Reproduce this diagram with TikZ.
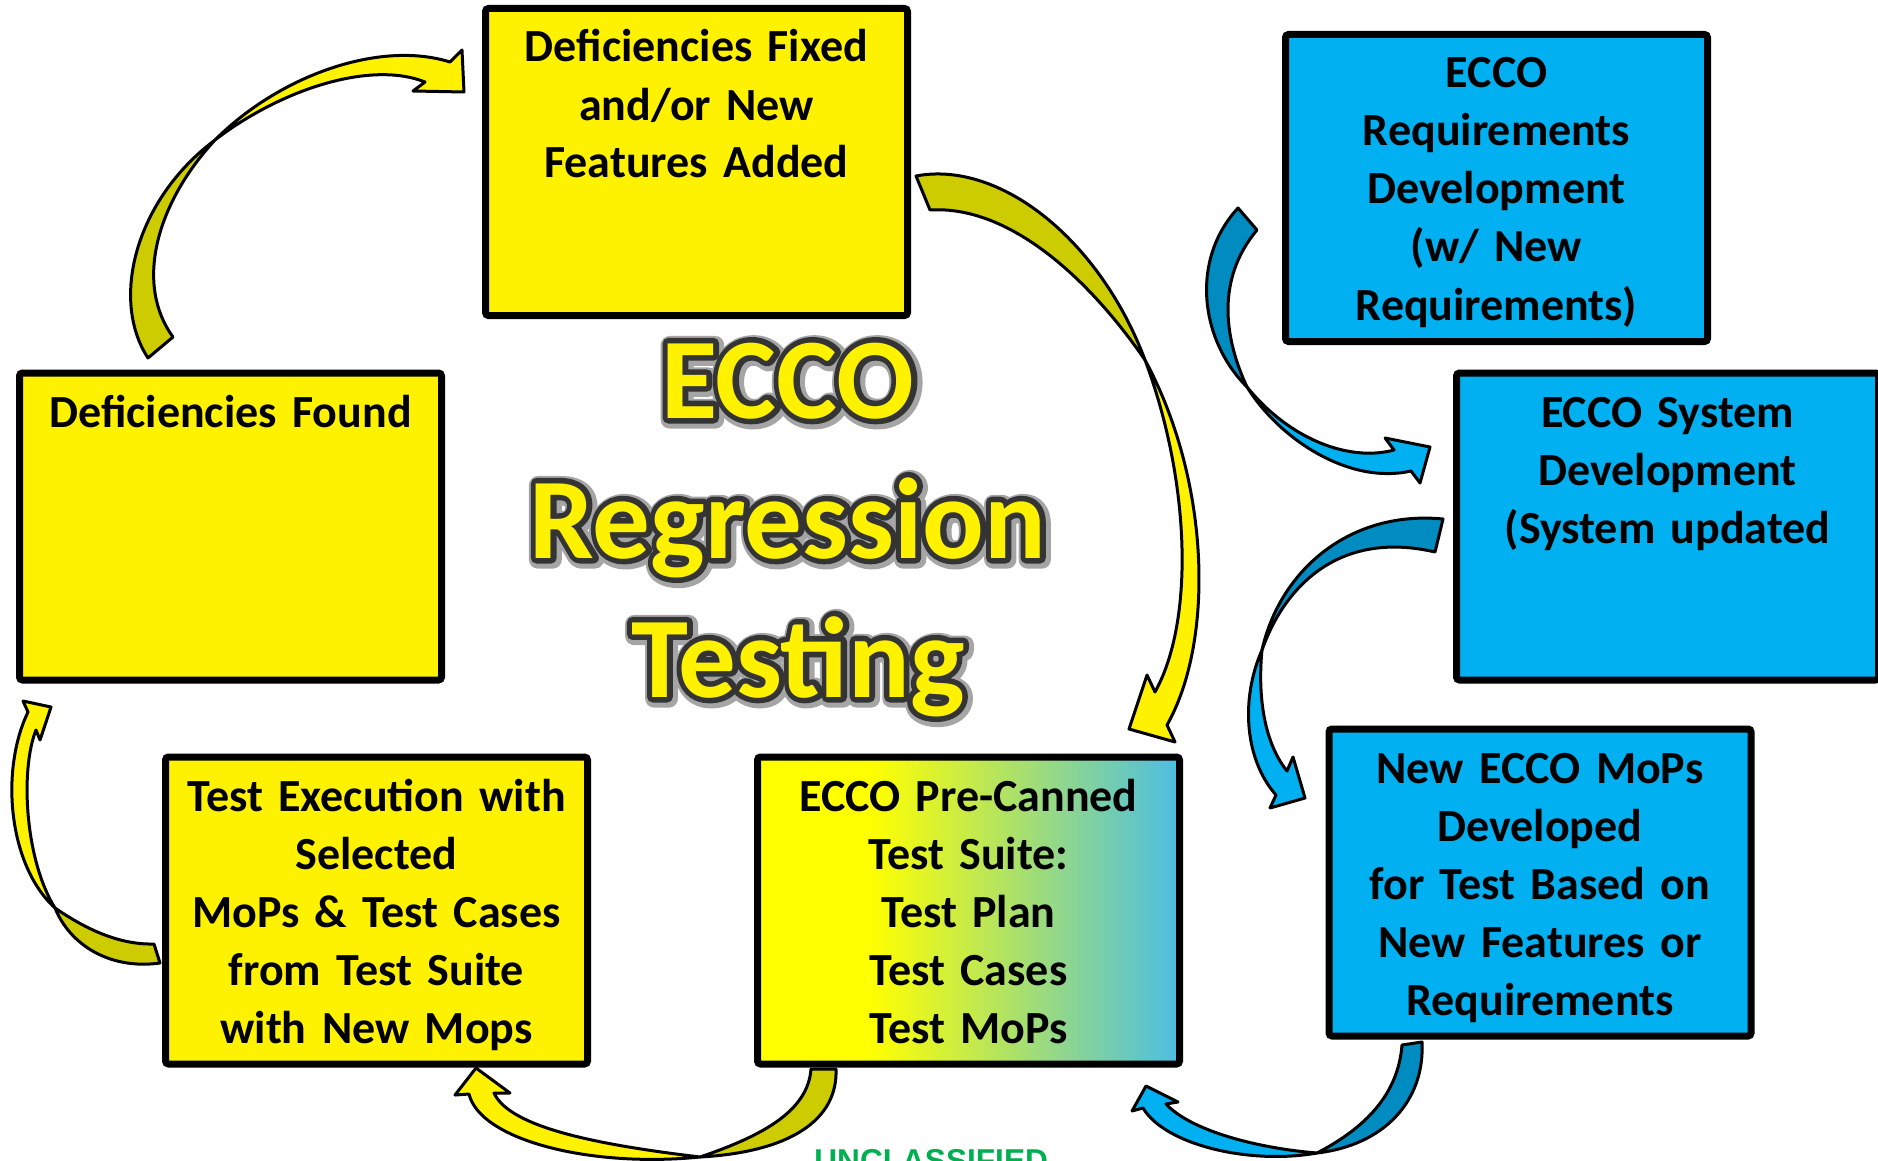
\documentclass[tikz,border=0pt]{standalone}
\usepackage{fontspec}
\setmainfont{Carlito}
\newfontfamily\classfont{Liberation Sans}
\definecolor{boxblue}{RGB}{0,176,240}
\definecolor{darkblue}{RGB}{0,140,192}
\definecolor{darkyellow}{RGB}{204,204,0}
\definecolor{gradblue}{RGB}{75,190,228}
\definecolor{olgray}{RGB}{52,52,52}
\definecolor{shgray}{RGB}{165,165,165}
\definecolor{classgreen}{RGB}{0,176,80}
\pgfdeclarehorizontalshading{precanshade}{100bp}{color(0bp)=(yellow); color(38.5bp)=(yellow); color(75bp)=(gradblue); color(100bp)=(gradblue)}
\newcommand\strokeon[1]{\special{pdf:literal direct 1 Tr #1 w 1 j}}
\newcommand\strokeoff{\special{pdf:literal direct 0 Tr}}
\newcommand\titletext[1]{%
  \rlap{\hspace*{0.8pt}\raisebox{-0.8pt}{\textcolor{shgray}{\strokeon{9}#1\strokeoff}}}%
  \rlap{\textcolor{olgray}{\strokeon{5.5}#1\strokeoff}}%
  \textcolor{yellow}{#1}}
\tikzset{
  boxbase/.style={draw=black, line width=3.5pt, rounded corners=1.5pt,
    minimum width=211pt, minimum height=153.5pt, inner sep=0pt},
  ybox/.style={boxbase, fill=yellow},
  bbox/.style={boxbase, fill=boxblue},
  boxtext/.style={text width=205pt, align=center, inner sep=0pt,
    font=\fontsize{23}{29}\selectfont\bfseries, anchor=base},
  titlestyle/.style={anchor=base, inner sep=0pt, font=\fontsize{57.5}{60}\selectfont\bfseries},
  arrowline/.style={draw=black, line width=1.5pt, line join=round},
  ylight/.style={arrowline, fill=yellow},
  ydark/.style={arrowline, fill=darkyellow},
  blight/.style={arrowline, fill=boxblue},
  bdark/.style={arrowline, fill=darkblue}
}
\begin{document}
\begin{tikzpicture}[x=0.5pt,y=-0.5pt]
\useasboundingbox (0,0) rectangle (1878,1161);
\clip (0,0) rectangle (1878,1161);
\fill[white] (0,0) rectangle (1878,1161);

% boxes
\node[ybox] (fixed) at (696.5,162) {};
\node[ybox] (found) at (230.5,526.5) {};
\node[ybox] (exec) at (376.5,910.5) {};
\node[boxbase, shade, shading=precanshade] (precan) at (968.5,910.5) {};
\node[bbox] (req) at (1496.5,188) {};
\node[bbox] (system) at (1667.5,526.5) {};
\node[bbox] (mops) at (1540,882.5) {};

% arrow A: found -> fixed
\draw[ydark] (148,358) .. controls (110,300) and (135,200) .. (215,140)
  .. controls (155,205) and (135,285) .. (173,337) -- cycle;
\draw[ylight] (215,140) .. controls (280,75) and (380,40) .. (450,62)
  -- (462,50) -- (464,92) -- (413,91) -- (425,82)
  .. controls (370,60) and (280,90) .. (215,140) -- cycle;

% arrow B: fixed -> precan
\draw[ydark] (916,176) .. controls (1000,160) and (1100,240) .. (1145,360)
  .. controls (1090,280) and (1010,205) .. (930,210) -- cycle;
\draw[ylight] (1145,360) .. controls (1210,480) and (1215,640) .. (1167,725)
  -- (1175,742) -- (1129,729) -- (1147,675) -- (1155,692)
  .. controls (1195,620) and (1190,480) .. (1145,360) -- cycle;

% arrow C: exec -> found
\draw[ydark] (160,963) .. controls (110,970) and (70,945) .. (55,908)
  .. controls (80,925) and (115,945) .. (154,944) -- cycle;
\draw[ylight] (55,908) .. controls (8,865) and (0,770) .. (28,712)
  -- (23,701) -- (51,707) -- (40,740) -- (36,730)
  .. controls (20,770) and (25,860) .. (55,908) -- cycle;

% arrow D: precan -> exec
\draw[ydark] (836,1069) .. controls (838,1120) and (790,1152) .. (700,1157)
  .. controls (765,1135) and (808,1110) .. (811,1069) -- cycle;
\draw[ylight] (700,1157) .. controls (590,1168) and (480,1140) .. (469,1094)
  -- (455,1095) -- (476,1068) -- (510,1093) -- (494,1093)
  .. controls (510,1128) and (600,1145) .. (700,1157) -- cycle;

% arrow E: mops -> precan
\draw[bdark] (1422,1042) .. controls (1425,1100) and (1385,1145) .. (1317,1153)
  .. controls (1365,1128) and (1398,1095) .. (1402,1045) -- cycle;
\draw[blight] (1317,1153) .. controls (1250,1165) and (1165,1145) .. (1143,1108)
  -- (1132,1111) -- (1146,1086) -- (1178,1102) -- (1166,1104)
  .. controls (1190,1130) and (1255,1148) .. (1317,1153) -- cycle;

% arrow F: req -> system
\draw[bdark] (1238,208) .. controls (1190,260) and (1200,340) .. (1247,387)
  .. controls (1225,340) and (1215,280) .. (1257,230) -- cycle;
\draw[blight] (1247,387) .. controls (1280,440) and (1350,485) .. (1411,471)
  -- (1420,483) -- (1430,447) -- (1385,438) -- (1394,450)
  .. controls (1350,462) and (1290,440) .. (1247,387) -- cycle;

% arrow G: system -> mops
\draw[bdark] (1443,519) .. controls (1350,510) and (1280,570) .. (1262,650)
  .. controls (1285,585) and (1340,530) .. (1435,552) -- cycle;
\draw[blight] (1262,650) .. controls (1240,700) and (1245,760) .. (1276,795)
  -- (1270,808) -- (1305,798) -- (1293,757) -- (1287,771)
  .. controls (1262,740) and (1258,690) .. (1262,650) -- cycle;

% box texts
\node[boxtext] (fixedT) at (696.5,62) {Deficiencies Fixed\\and/or New\\Features Added};
\node[boxtext] (foundT) at (230.5,427) {Deficiencies Found};
\node[boxtext] (execT) at (376.5,811) {Test Execution with\\Selected\\MoPs \& Test Cases\\from Test Suite\\with New Mops};
\node[boxtext] (precanT) at (968.5,811) {ECCO Pre-Canned\\Test Suite:\\Test Plan\\Test Cases\\Test MoPs};
\node[boxtext] (reqT) at (1496.5,88) {ECCO\\Requirements\\Development\\(w/ New\\Requirements)};
\node[boxtext] (systemT) at (1667.5,427) {ECCO System\\Development\\(System updated};
\node[boxtext] (mopsT) at (1540,783) {New ECCO MoPs\\Developed\\for Test Based on\\New Features or\\Requirements};

% title
\node[titlestyle] (title1) at (788,418) {\titletext{ECCO}};
\node[titlestyle] (title2) at (788,558) {\titletext{Regression}};
\node[titlestyle] (title3) at (798,697) {\titletext{Testing}};

% classification
\node[anchor=base west, inner sep=0pt, text=classgreen, font=\classfont\bfseries\fontsize{15.8}{18}\selectfont] (classif) at (814,1171) {UNCLASSIFIED};
\end{tikzpicture}
\end{document}
